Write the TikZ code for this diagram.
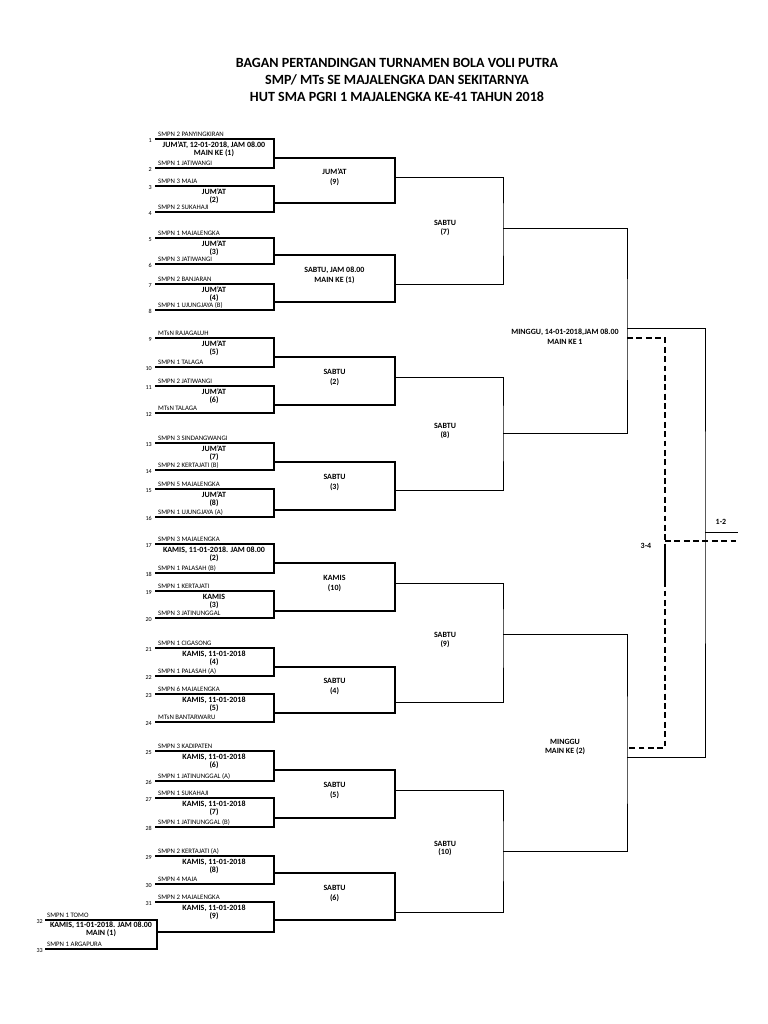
\documentclass[tikz,border=0pt]{standalone}
\usepackage{fontspec}
\setmainfont{Carlito}
\usetikzlibrary{positioning, calc}

\begin{document}
\begin{tikzpicture}[
    x=0.03cm, y=-0.03cm,
    heading/.style={align=center, inner sep=0pt, font=\bfseries\fontsize{12}{14.5}\selectfont},
    team/.style={anchor=base west, inner sep=0pt, font=\fontsize{5.8}{6}\selectfont},
    seed/.style={anchor=base east, inner sep=0pt, font=\fontsize{5.2}{6}\selectfont},
    slot/.style={align=center, inner sep=0pt, font=\bfseries\fontsize{6.8}{7}\selectfont},
    stage/.style={align=center, inner sep=0pt, font=\bfseries\fontsize{6.8}{8.5}\selectfont},
    stagetight/.style={stage, font=\bfseries\fontsize{6.8}{7.2}\selectfont},
    firstround/.style={line width=1.5pt},
    secondround/.style={line width=1.1pt},
    laterround/.style={line width=0.85pt},
    bronze/.style={line width=1.3pt, dash pattern=on 5pt off 3pt}
]
    \useasboundingbox (0,0) rectangle (768,1024);

    \node[heading] (title) at (397,80)
        {BAGAN PERTANDINGAN TURNAMEN BOLA VOLI PUTRA\\SMP/ MTs SE MAJALENGKA DAN SEKITARNYA\\HUT SMA PGRI 1 MAJALENGKA KE-41 TAHUN 2018};

    % first round
    \foreach \m/\ya/\yb/\yo/\teama/\teamb/\notea/\noteb in {
        1/139/168/158/{SMPN 2 PANYINGKIRAN}/{SMPN 1 JATIWANGI}/{JUM'AT, 12-01-2018, JAM 08.00}/{MAIN KE (1)},
        2/186/212/203/{SMPN 3 MAJA}/{SMPN 2 SUKAHAJI}/{JUM'AT}/{(2)},
        3/238/264/255/{SMPN 1 MAJALENGKA}/{SMPN 3 JATIWANGI}/{JUM'AT}/{(3)},
        4/284/310/302/{SMPN 2 BANJARAN}/{SMPN 1 UJUNGJAYA (B)}/{JUM'AT}/{(4)},
        5/338/367/357/{MTsN RAJAGALUH}/{SMPN 1 TALAGA}/{JUM'AT}/{(5)},
        6/386/413/405/{SMPN 2 JATIWANGI}/{MTsN TALAGA}/{JUM'AT}/{(6)},
        7/443/470/462/{SMPN 3 SINDANGWANGI}/{SMPN 2 KERTAJATI (B)}/{JUM'AT}/{(7)},
        8/489/517/510/{SMPN 5 MAJALENGKA}/{SMPN 1 UJUNGJAYA (A)}/{JUM'AT}/{(8)},
        9/544/573/563/{SMPN 3 MAJALENGKA}/{SMPN 1 PALASAH (B)}/{KAMIS, 11-01-2018. JAM 08.00}/{(2)},
        10/591/618/611/{SMPN 1 KERTAJATI}/{SMPN 3 JATINUNGGAL}/{KAMIS}/{(3)},
        11/648/676/667/{SMPN 1 CIGASONG}/{SMPN 1 PALASAH (A)}/{KAMIS, 11-01-2018}/{(4)},
        12/694/722/713/{SMPN 6 MAJALENGKA}/{MTsN BANTARWARU}/{KAMIS, 11-01-2018}/{(5)},
        13/751/781/770/{SMPN 3 KADIPATEN}/{SMPN 1 JATINUNGGAL (A)}/{KAMIS, 11-01-2018}/{(6)},
        14/798/827/818/{SMPN 1 SUKAHAJI}/{SMPN 1 JATINUNGGAL (B)}/{KAMIS, 11-01-2018}/{(7)},
        15/856/884/873/{SMPN 2 KERTAJATI (A)}/{SMPN 4 MAJA}/{KAMIS, 11-01-2018}/{(8)}}{
        \pgfmathtruncatemacro{\na}{2*\m-1}
        \pgfmathtruncatemacro{\nb}{2*\m}
        \coordinate (m\m-a) at (155,\ya);
        \coordinate (m\m-b) at (155,\yb);
        \coordinate (m\m) at (274,\yo);
        \draw[firstround] (m\m-a) -| (m\m) |- (m\m-b);
        \node[team] (t\na) at (158,\ya-3) {\teama};
        \node[seed] (n\na) at (152,\ya+3) {\na};
        \node[team] (t\nb) at (158,\yb-3) {\teamb};
        \node[seed] (n\nb) at (152,\yb+3) {\nb};
        \node[slot] (g\m) at (214,\ya+10.5) {\notea\\\noteb};
    }

    % last first-round slot, fed by the opening match
    \coordinate (m16-a) at (155,902);
    \coordinate (p) at (157,932);
    \coordinate (m16) at (274,920);
    \draw[firstround] (m16-a) -| (m16) |- (p);
    \node[team] (t31) at (158,899) {SMPN 2 MAJALENGKA};
    \node[seed] (n31) at (152,905) {31};
    \node[slot] (g16) at (214,912.5) {KAMIS, 11-01-2018\\(9)};

    \coordinate (p-a) at (45,920);
    \coordinate (p-b) at (45,949);
    \draw[firstround] (p-a) -| (p) |- (p-b);
    \node[team] (t32) at (47,917) {SMPN 1 TOMO};
    \node[seed] (n32) at (43,923) {32};
    \node[team] (t33) at (47,946) {SMPN 1 ARGAPURA};
    \node[seed] (n33) at (43,952) {33};
    \node[slot] (g0) at (101,929.5) {KAMIS, 11-01-2018. JAM 08.00\\MAIN (1)};

    % second round
    \foreach \r/\p/\q/\yo/\lbl in {
        1/1/2/177/{JUM'AT\\(9)},
        2/3/4/284/{SABTU, JAM 08.00\\MAIN KE (1)},
        3/5/6/377/{SABTU\\(2)},
        4/7/8/490/{SABTU\\(3)},
        5/9/10/583/{KAMIS\\(10)},
        6/11/12/702/{SABTU\\(4)},
        7/13/14/790/{SABTU\\(5)},
        8/15/16/912/{SABTU\\(6)}}{
        \coordinate (r\r) at (395,\yo);
        \draw[secondround] (m\p) -| (r\r) |- (m\q);
        \node[stage] (h\r) at ($(m\p)!0.5!(m\q)+(60.5,-3.5)$) {\lbl};
    }

    % third round
    \foreach \k/\p/\q/\yo/\lbl in {
        1/1/2/228/{SABTU\\(7)},
        2/3/4/433/{SABTU\\(8)},
        3/5/6/634/{SABTU\\(9)},
        4/7/8/851/{SABTU\\(10)}}{
        \coordinate (q\k) at (503,\yo);
        \draw[laterround] (r\p) -| (q\k) |- (r\q);
        \node[stagetight] (k\k) at ($(r\p)!0.5!(r\q)+(50,-2.5)$) {\lbl};
    }

    % semi finals
    \coordinate (s1) at (627,328);
    \coordinate (s2) at (627,757);
    \draw[laterround] (q1) -| (s1) |- (q2);
    \draw[laterround] (q3) -| (s2) |- (q4);
    \node[stage] (semi1) at (565,337) {MINGGU, 14-01-2018,JAM 08.00\\MAIN KE 1};
    \node[stage] (semi2) at (565,747) {MINGGU\\MAIN KE (2)};

    % final and third place
    \coordinate (f) at (705,532);
    \coordinate (champ) at (738,532);
    \draw[laterround] (s1) -| (f) |- (s2);
    \draw[laterround] (f) -- (champ);
    \node[stage] (fin) at (721,522) {1-2};

    \coordinate (d1) at (627,338);
    \coordinate (d2) at (627,748);
    \coordinate (d) at (665,541);
    \coordinate (bronzeend) at (738,541);
    \draw[bronze] (d1) -| (d) |- (d2);
    \draw[bronze] (d) -- (bronzeend);
    \draw[firstround] ($(d)+(0,5)$) -- ($(d)+(0,41)$);
    \node[stage] (third) at (646,546) {3-4};
\end{tikzpicture}
\end{document}
